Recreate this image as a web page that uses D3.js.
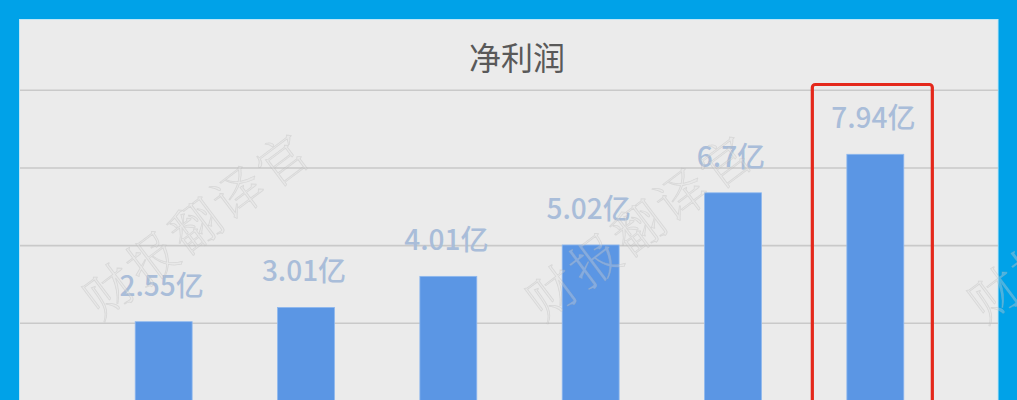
<!DOCTYPE html>
<html><head><meta charset="utf-8">
<script src="https://cdn.jsdelivr.net/npm/d3@7"></script>
<style>html,body{margin:0;padding:0;background:#00a2e8;overflow:hidden}</style>
</head><body>
<svg id="c" width="1017" height="400"></svg>
<script>
const categories = ["第1年","第2年","第3年","第4年","第5年","第6年"];
const netProfit = [2.55, 3.01, 4.01, 5.02, 6.7, 7.94];
const valueLabels = ["2.55亿","3.01亿","4.01亿","5.02亿","6.7亿","7.94亿"];
const gridTicks = [0, 2.5, 5, 7.5, 10];
const title = "净利润";
const watermark = "财报翻译官";

const W = 1017, H = 400;
const svg = d3.select("#c");
const font = "'Noto Sans CJK SC','Microsoft YaHei',sans-serif";

// frame
svg.append("rect").attr("x",0).attr("y",0).attr("width",W).attr("height",H).attr("fill","#00a2e8");
svg.append("rect").attr("x",19.5).attr("y",19.5).attr("width",978.5).attr("height",H).attr("fill","#ebebeb")
  .attr("stroke","#bfe6f6").attr("stroke-width",1);

const x = d3.scaleBand().domain(categories).range([92.5, 946.5]).paddingInner(0.6).paddingOuter(0.3);
const y = d3.scaleLinear().domain([0, 10]).range([400.9, 90.3]);

// gridlines
svg.append("g").selectAll("line").data(gridTicks).join("line")
  .attr("x1",20).attr("x2",998)
  .attr("y1",d=>y(d)).attr("y2",d=>y(d))
  .attr("stroke","#c9c9c9").attr("stroke-width",1.6);

// title
svg.append("text").attr("x",517).attr("y",70).attr("text-anchor","middle")
  .attr("font-family",font).attr("font-size",32).attr("fill","#595959").text(title);

// bars
svg.append("g").selectAll("rect").data(netProfit).join("rect")
  .attr("x",(d,i)=>x(categories[i]))
  .attr("width",x.bandwidth())
  .attr("y",d=>y(d))
  .attr("height",d=>y(0)-y(d))
  .attr("fill","#5b96e4")
  .attr("stroke","#8fb8ee").attr("stroke-width",0.8);

// labels
svg.append("g").selectAll("text").data(netProfit).join("text")
  .attr("x",(d,i)=>x(categories[i])+x.bandwidth()/2-2)
  .attr("y",d=>y(d)-26)
  .attr("text-anchor","middle")
  .attr("font-family",font).attr("font-size",28).attr("font-weight",500)
  .attr("fill","#a9bdd9")
  .text((d,i)=>valueLabels[i]);

// highlight box around last bar
const last = categories[categories.length-1];
const cx = x(last) + x.bandwidth()/2;
svg.append("rect")
  .attr("x", cx-63).attr("y", 84.5)
  .attr("width", 120).attr("height", 330)
  .attr("rx",3).attr("fill","none")
  .attr("stroke","#e4281b").attr("stroke-width",3.2);

// watermarks
const wmCenters = [[195,222],[638,224],[1080,226]];
svg.append("g").selectAll("text").data(wmCenters).join("text")
  .attr("transform",d=>`translate(${d[0]},${d[1]}) rotate(-37)`)
  .attr("text-anchor","middle").attr("dominant-baseline","central")
  .attr("font-family","'Noto Serif CJK SC','Noto Sans CJK SC',serif")
  .attr("font-size",50).attr("font-weight",200).attr("letter-spacing",4)
  .attr("fill","rgba(225,225,225,0.3)")
  .attr("stroke","rgba(175,175,175,0.3)").attr("stroke-width",0.8)
  .text(watermark);
</script>
</body></html>
